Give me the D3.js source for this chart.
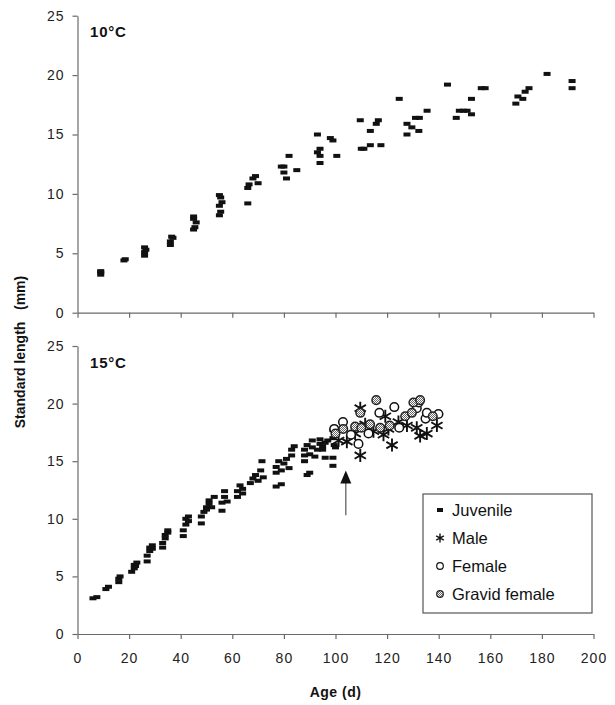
<!DOCTYPE html>
<html><head><meta charset="utf-8">
<script src="https://cdn.jsdelivr.net/npm/d3@7"></script>
<style>
body{margin:0;background:#fff;}
text{font-family:"Liberation Sans",Arial,sans-serif;}
</style></head>
<body><svg id="c" width="615" height="705"></svg>
<script>
// ---------- DATA ----------
const xTicks = [0,20,40,60,80,100,120,140,160,180,200];
const yTicks = [0,5,10,15,20,25];
const panelLabels = ["10°C","15°C"];
const legendLabels = ["Juvenile","Male","Female","Gravid female"];
const arrowAge = 104;
const arrowFrom = 10.3, arrowTo = 14.2;

// 10°C juveniles
const juv10Age = [9,9,9, 18,18.5, 26,26,26.5,26, 36,36,37,36.5, 45,45.5,46,45,45, 55,55.5,55,56,55.5,55,
  66,66,66.5,68,69,70, 79,80,80,81,82,85, 93,93,94,94,94,98,99,100.5,
  109.6,110,111,113.5,113.5,115.8,116.6,117.6, 124.7,127.7,127.7,129.6,131,132.5,132.3,135.5,
  143.4,146.8,148,149.6,151,152.7,152.7,156.5,158, 169.9,170.7,172.6,173.5,175, 182, 191.7,191.7];
const juv10Len = [3.2,3.4,3.5, 4.4,4.5, 4.8,5.1,5.3,5.5, 5.7,6.0,6.3,6.4, 7.0,7.2,7.6,7.9,8.1, 8.2,8.5,9.0,9.3,9.7,9.9,
  9.2,10.5,10.8,11.3,11.5,10.9, 12.3,11.8,12.3,11.3,13.2,12.0, 15.0,13.5,13.8,13.2,12.6,14.7,14.5,13.2,
  16.2,13.8,13.8,15.3,14.1,15.9,16.2,14.1, 18.0,15.9,15.0,15.6,16.4,16.4,15.3,17.0,
  19.2,16.4,17.0,17.0,17.0,18.0,16.7,18.9,18.9, 17.6,18.2,18.0,18.6,18.9, 20.1, 19.5,18.9];

// 15°C juveniles
const juv15Age = [6,7.5, 11,12, 16,16,16.5, 21,22,22,23,22.5, 27,27,28,28,29,29, 33,33,34,34,35,35,
  41,41,42,43,43,42, 48,48,49,50,50,51,51,52,53, 56,56,57,57,58, 62,62,63,64,64,
  67,68,69,70,71,72,71.5, 77,79, 77,77,78,79,80,81,82,83,83,84,
  89,90, 88,88,88,89,90,91,91,92,93,94,94,95,95,96,96,97, 99,99,99,99,99.5,100];
const juv15Len = [3.1,3.2, 3.9,4.1, 4.5,4.8,5.0, 5.4,5.7,6.0,6.2,5.9, 6.3,6.8,7.2,7.5,7.4,7.7, 7.5,7.9,8.3,8.6,8.8,9.0,
  8.5,9.0,9.5,9.8,10.2,10.0, 9.6,10.2,10.6,11.0,10.8,11.6,11.3,11.0,11.9, 11.4,10.7,11.9,12.4,11.5, 11.9,12.4,12.9,12.2,12.6,
  13.1,13.5,13.8,13.3,14.2,13.6,15.0, 12.8,13.0, 14.0,14.5,15.0,14.2,14.8,15.2,14.4,15.5,16.0,16.3,
  13.8,14.0, 15.0,15.5,16.0,16.4,15.6,16.8,16.2,15.4,16.0,16.5,16.9,16.3,16.0,16.6,15.3,16.8, 15.3,14.6,17.7,17.0,16.4,16.2];

const maleAge = [101.2,104.4,107.6,109.6,109.6,111.5,114.7,118.6,119.3,120.5,121.9,124.4,127.7,131.5,132.8,135.4,139.3];
const maleLen = [16.8,16.7,17.4,19.6,15.5,18.2,17.6,17.3,18.9,17.8,16.4,18.4,18.1,17.9,17.2,17.4,18.1];

const femaleAge = [99.5,102.9,106,108.9,112.8,117,122.8,124.7,131.5,132.2,134.9,135.4,139.9];
const femaleLen = [17.8,18.4,17.3,16.5,17.4,19.2,19.7,17.9,19.6,20.1,18.7,19.2,19.1];

const gravidAge = [100,103,107.6,109.6,110,113.4,115.8,117.3,121,127,129.6,130.2,132.8,137.7];
const gravidLen = [17.4,17.8,18.0,19.2,17.9,18.2,20.3,17.9,18.1,18.9,19.2,20.1,20.3,18.9];

// ---------- DRAW ----------
const svg = d3.select("#c");
const defs = svg.append("defs");
const pat = defs.append("pattern").attr("id","dots").attr("width",2).attr("height",2)
  .attr("patternUnits","userSpaceOnUse");
pat.append("rect").attr("width",2).attr("height",2).attr("fill","#fff");
pat.append("rect").attr("width",1).attr("height",1).attr("fill","#666");
pat.append("rect").attr("x",1).attr("y",1).attr("width",1).attr("height",1).attr("fill","#666");

const x = d3.scaleLinear().domain([0,200]).range([77.5,593.5]);
const panels = [
  {y: d3.scaleLinear().domain([0,25]).range([312.7,15.7]), label: panelLabels[0], labelY: 36.5, tickLabels:false},
  {y: d3.scaleLinear().domain([0,25]).range([634,346]), label: panelLabels[1], labelY: 368, tickLabels:true}
];
const axisColor = "#6a6a6a";

function styleAxis(g){
  g.select(".domain").attr("stroke",axisColor).attr("stroke-width",1.2);
  g.selectAll(".tick line").attr("stroke",axisColor).attr("stroke-width",1.2);
  g.selectAll(".tick text").attr("fill","#222").style("font-size","14px")
    .style("letter-spacing","1px");
}

panels.forEach((p,i)=>{
  const gy = svg.append("g").attr("transform",`translate(${x(0)},0)`)
    .call(d3.axisLeft(p.y).tickValues(yTicks).tickSize(5).tickPadding(8).tickSizeOuter(0));
  styleAxis(gy);
  const gx = svg.append("g").attr("transform",`translate(0,${p.y(0)})`)
    .call(d3.axisBottom(x).tickValues(xTicks).tickSize(5).tickPadding(14).tickSizeOuter(0)
      .tickFormat(p.tickLabels ? d3.format("d") : ""));
  styleAxis(gx);
  svg.append("text").attr("x",90).attr("y",p.labelY).text(p.label)
    .style("font-size","15px").style("font-weight","bold").style("letter-spacing","0.8px").attr("fill","#111");
});

const rw = 7, rh = 4;
function juveniles(ages, lens, y){
  svg.append("g").selectAll("rect").data(ages.map((a,i)=>[a,lens[i]])).join("rect")
    .attr("x",d=>x(d[0])-rw/2).attr("y",d=>y(d[1])-rh/2)
    .attr("width",rw).attr("height",rh).attr("fill","#111");
}
juveniles(juv10Age, juv10Len, panels[0].y);
juveniles(juv15Age, juv15Len, panels[1].y);

const yb = panels[1].y;
const ast = d3.symbol().type(d3.symbolAsterisk).size(120);
svg.append("g").selectAll("path").data(maleAge.map((a,i)=>[a,maleLen[i]])).join("path")
  .attr("d",ast).attr("transform",d=>`translate(${x(d[0])},${yb(d[1])})`)
  .attr("fill","none").attr("stroke","#111").attr("stroke-width",1.9);
svg.append("g").selectAll("circle").data(femaleAge.map((a,i)=>[a,femaleLen[i]])).join("circle")
  .attr("cx",d=>x(d[0])).attr("cy",d=>yb(d[1])).attr("r",4.3)
  .attr("fill","#fff").attr("stroke","#111").attr("stroke-width",1.5);
svg.append("g").selectAll("circle").data(gravidAge.map((a,i)=>[a,gravidLen[i]])).join("circle")
  .attr("cx",d=>x(d[0])).attr("cy",d=>yb(d[1])).attr("r",4.3)
  .attr("fill","url(#dots)").attr("stroke","#222").attr("stroke-width",1.5);

// arrow
svg.append("line").attr("x1",x(arrowAge)).attr("x2",x(arrowAge))
  .attr("y1",yb(arrowFrom)).attr("y2",yb(arrowTo)+10)
  .attr("stroke","#555").attr("stroke-width",1.2);
const tipY = yb(arrowTo);
svg.append("path").attr("d",`M${x(arrowAge)},${tipY} l-5.5,13 l11,0 Z`).attr("fill","#111");

// axis titles
svg.append("text").attr("x",x(100)).attr("y",697).attr("text-anchor","middle")
  .text("Age (d)").style("font-size","14px").style("font-weight","bold").style("letter-spacing","0.5px").attr("fill","#111");
svg.append("text").attr("transform","translate(25,352) rotate(-90)").attr("text-anchor","middle")
  .style("white-space","pre").text("Standard length   (mm)")
  .style("font-size","14px").style("font-weight","bold").attr("fill","#111");

// legend
const lg = svg.append("g");
lg.append("rect").attr("x",423).attr("y",494).attr("width",169).attr("height",119)
  .attr("fill","#fff").attr("stroke","#555").attr("stroke-width",1.2);
const ly = [510,538,566,594];
const mx = 440;
lg.append("rect").attr("x",mx-3).attr("y",ly[0]-2).attr("width",6).attr("height",4).attr("fill","#111");
lg.append("path").attr("d",d3.symbol().type(d3.symbolAsterisk).size(55))
  .attr("transform",`translate(${mx},${ly[1]})`).attr("fill","none").attr("stroke","#111").attr("stroke-width",1.4);
lg.append("circle").attr("cx",mx).attr("cy",ly[2]).attr("r",3.3).attr("fill","#fff").attr("stroke","#111").attr("stroke-width",1.2);
lg.append("circle").attr("cx",mx).attr("cy",ly[3]).attr("r",3.3).attr("fill","url(#dots)").attr("stroke","#222").attr("stroke-width",1.2);
lg.selectAll("text.l").data(legendLabels).join("text").attr("class","l")
  .attr("x",452).attr("y",(d,i)=>ly[i]+6).text(d=>d)
  .style("font-size","16.5px").attr("fill","#111");
</script></body></html>
